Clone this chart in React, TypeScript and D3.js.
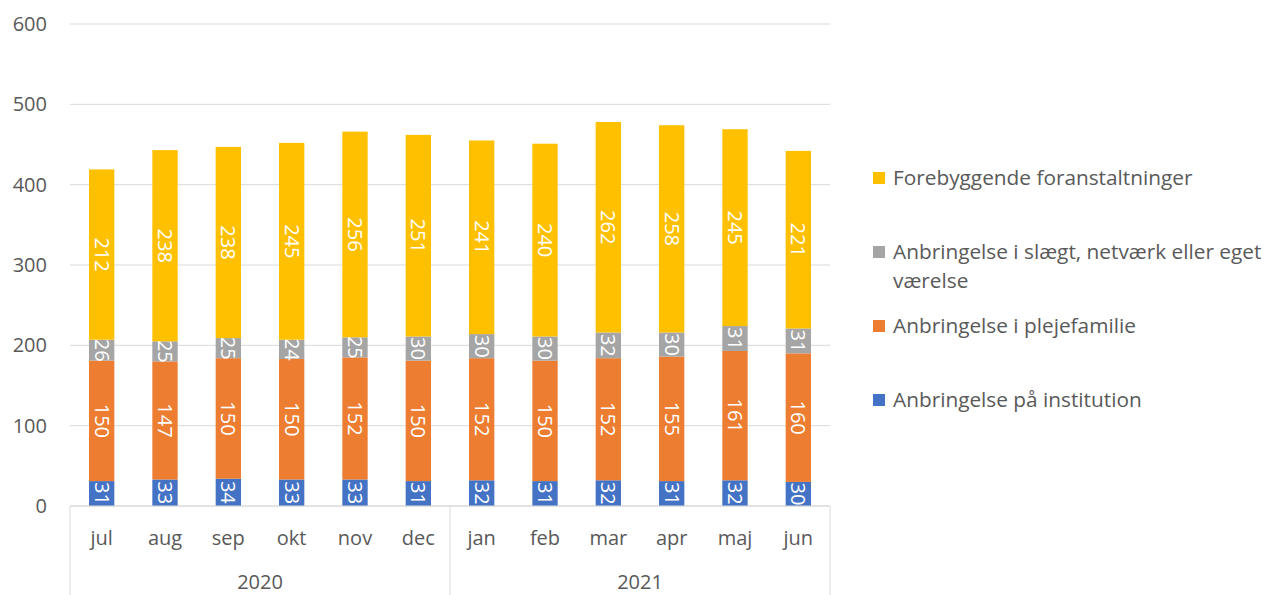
import React, { useEffect, useRef } from "react";
import * as d3 from "d3";

const months = ["jul", "aug", "sep", "okt", "nov", "dec", "jan", "feb", "mar", "apr", "maj", "jun"];
const years = [
  { label: "2020", from: 0, to: 6 },
  { label: "2021", from: 6, to: 12 },
];
const institution = [31, 33, 34, 33, 33, 31, 32, 31, 32, 31, 32, 30];
const plejefamilie = [150, 147, 150, 150, 152, 150, 152, 150, 152, 155, 161, 160];
const slaegt = [26, 25, 25, 24, 25, 30, 30, 30, 32, 30, 31, 31];
const forebyggende = [212, 238, 238, 245, 256, 251, 241, 240, 262, 258, 245, 221];
const yTicks = [0, 100, 200, 300, 400, 500, 600];

const seriesNames = [
  "Anbringelse på institution",
  "Anbringelse i plejefamilie",
  "Anbringelse i slægt, netværk eller eget værelse",
  "Forebyggende foranstaltninger",
];
const seriesColors = ["#4472C4", "#ED7D31", "#A5A5A5", "#FFC000"];

const App = () => {
  const ref = useRef<SVGSVGElement>(null);

  useEffect(() => {
    const width = 1277;
    const height = 595;
    const left = 70;
    const right = 830;
    const top = 24;
    const bottom = 506;
    const font = "'Open Sans', sans-serif";
    const textColor = "#595959";

    const svg = d3.select(ref.current);
    svg.selectAll("*").remove();
    svg.attr("width", width).attr("height", height).style("font-family", font);

    const x = d3.scaleBand().domain(months).range([left, right]).paddingInner(0.6).paddingOuter(0.3);
    const xc = d3.scaleBand().domain(months).range([left, right]);
    const y = d3.scaleLinear().domain([0, 600]).range([bottom, top]);

    // gridlines
    svg
      .append("g")
      .selectAll("line")
      .data(yTicks)
      .join("line")
      .attr("x1", left)
      .attr("x2", right)
      .attr("y1", (d) => y(d))
      .attr("y2", (d) => y(d))
      .attr("stroke", "#D9D9D9")
      .attr("stroke-width", 1);

    svg
      .append("g")
      .selectAll("text")
      .data(yTicks)
      .join("text")
      .attr("x", 47)
      .attr("y", (d) => y(d))
      .attr("dy", "0.35em")
      .attr("text-anchor", "end")
      .attr("font-size", 20)
      .attr("fill", textColor)
      .text((d) => d);

    const table = months.map((m, i) => ({
      month: m,
      s0: institution[i],
      s1: plejefamilie[i],
      s2: slaegt[i],
      s3: forebyggende[i],
    }));
    const stack = d3.stack<any>().keys(["s0", "s1", "s2", "s3"]);
    const stacked = stack(table);

    svg
      .append("clipPath")
      .attr("id", "plotclip")
      .append("rect")
      .attr("x", left)
      .attr("y", 0)
      .attr("width", right - left)
      .attr("height", bottom);

    const layers = svg
      .append("g")
      .attr("clip-path", "url(#plotclip)")
      .selectAll("g")
      .data(stacked)
      .join("g")
      .attr("fill", (d, i) => seriesColors[i]);

    layers
      .selectAll("rect")
      .data((d) => d)
      .join("rect")
      .attr("x", (d: any) => x(d.data.month)!)
      .attr("width", x.bandwidth())
      .attr("y", (d) => y(d[1]))
      .attr("height", (d) => y(d[0]) - y(d[1]));

    layers
      .selectAll("text")
      .data((d) => d)
      .join("text")
      .attr("transform", (d: any) => {
        const cx = x(d.data.month)! + x.bandwidth() / 2;
        const cy = (y(d[0]) + y(d[1])) / 2;
        return `translate(${cx},${cy}) rotate(90)`;
      })
      .attr("text-anchor", "middle")
      .attr("dy", "0.35em")
      .attr("font-size", 20)
      .attr("fill", "#FFFFFF")
      .text((d) => d[1] - d[0]);

    // category axis
    const axis = svg.append("g").attr("stroke", "#D9D9D9").attr("stroke-width", 1);
    axis.append("line").attr("x1", left).attr("x2", right).attr("y1", bottom).attr("y2", bottom);
    const seps = [0, 6, 12].map((i) => (i < 12 ? xc(months[i])! : right));
    axis
      .selectAll("line.sep")
      .data(seps)
      .join("line")
      .attr("class", "sep")
      .attr("x1", (d) => d)
      .attr("x2", (d) => d)
      .attr("y1", bottom)
      .attr("y2", height);

    svg
      .append("g")
      .selectAll("text")
      .data(months)
      .join("text")
      .attr("x", (d) => xc(d)! + xc.bandwidth() / 2)
      .attr("y", 538)
      .attr("dy", "0.35em")
      .attr("text-anchor", "middle")
      .attr("font-size", 20)
      .attr("fill", textColor)
      .text((d) => d);

    svg
      .append("g")
      .selectAll("text")
      .data(years)
      .join("text")
      .attr("x", (d) => (xc(months[d.from])! + (d.to < 12 ? xc(months[d.to])! : right)) / 2)
      .attr("y", 582)
      .attr("dy", "0.35em")
      .attr("text-anchor", "middle")
      .attr("font-size", 20)
      .attr("fill", textColor)
      .text((d) => d.label);

    // legend
    const legend = [
      { idx: 3, lines: ["Forebyggende foranstaltninger"], y: 178 },
      { idx: 2, lines: ["Anbringelse i slægt, netværk eller eget", "værelse"], y: 252 },
      { idx: 1, lines: ["Anbringelse i plejefamilie"], y: 326 },
      { idx: 0, lines: ["Anbringelse på institution"], y: 400 },
    ];
    const lg = svg.append("g").selectAll("g").data(legend).join("g");
    lg.append("rect")
      .attr("x", 873)
      .attr("y", (d) => d.y - 6)
      .attr("width", 12)
      .attr("height", 12)
      .attr("fill", (d) => seriesColors[d.idx]);
    lg.append("text")
      .attr("x", 893)
      .attr("y", (d) => d.y)
      .attr("font-size", 20.8)
      .attr("fill", textColor)
      .selectAll("tspan")
      .data((d) => d.lines)
      .join("tspan")
      .attr("x", 893)
      .attr("dy", (d, i) => (i === 0 ? "0.35em" : 29))
      .text((d) => d);
  }, []);

  return <svg ref={ref} style={{ position: "absolute", left: 0, top: 0 }}></svg>;
};

export default App;
